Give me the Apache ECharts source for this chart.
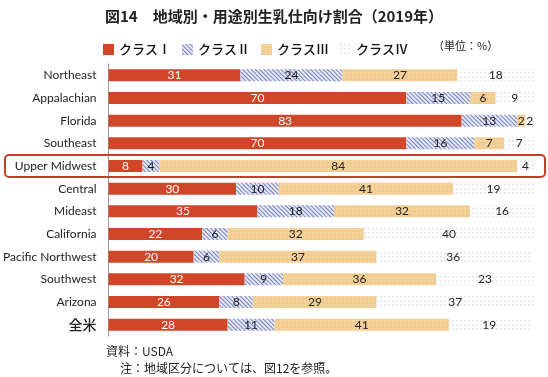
<!DOCTYPE html>
<html><head><meta charset="utf-8">
<script src="https://cdn.jsdelivr.net/npm/echarts@6/dist/echarts.min.js"></script>
<style>html,body{margin:0;padding:0;background:#fff}#c{width:548px;height:377px}</style>
</head><body><div id="c"></div>
<script>
const categories = ['Northeast','Appalachian','Florida','Southeast','Upper Midwest','Central','Mideast','California','Pacific Northwest','Southwest','Arizona','全米'];
const seriesNames = ['クラスⅠ','クラスⅡ','クラスⅢ','クラスⅣ'];
const class1 = [31,70,83,70,8,30,35,22,20,32,26,28];
const class2 = [24,15,13,16,4,10,18,6,6,9,8,11];
const class3 = [27,6,2,7,84,41,32,32,37,36,29,41];
const class4 = [18,9,2,7,4,19,16,40,36,23,37,19];
const highlightCategory = 'Upper Midwest';

const chart = echarts.init(document.getElementById('c'));
const lab = (color) => ({show:true, position:'inside', color:color, fontSize:12, fontFamily:'Lato, "Noto Sans", sans-serif'});
const styles = [
  {color:'#cf4629'},
  {color:'#e6e9f5', decal:{symbol:'rect', symbolSize:1, dashArrayX:[1,0], dashArrayY:[1,1.5], rotation:Math.PI/4, color:'#7482c0'}},
  {color:'#f1cd92', decal:{symbol:'circle', symbolSize:0.7, dashArrayX:[[2,2]], dashArrayY:[2,2], color:'#f8e2bc'}},
  {color:'#ffffff', decal:{symbol:'circle', symbolSize:0.8, dashArrayX:[[1.5,2]], dashArrayY:[1.5,2], color:'#cbd2de'}}
];
const data = [class1,class2,class3,class4];
const notes = [
  {type:'text', left:433, top:40, style:{text:'（単位：%）', fill:'#222', font:'11px "Noto Sans CJK JP"'}},
  {type:'text', left:106, top:345, style:{text:'資料：USDA', fill:'#222', font:'12px "Noto Sans CJK JP"'}},
  {type:'text', left:120, top:362, style:{text:'注：地域区分については、図12を参照。', fill:'#222', font:'12px "Noto Sans CJK JP"'}}
];
chart.setOption({
  animation:false,
  title:{text:'図14　地域別・用途別生乳仕向け割合（2019年）', left:'center', top:4,
    textStyle:{fontSize:15, fontWeight:'bold', color:'#222', fontFamily:'"Noto Sans CJK JP", sans-serif'}},
  legend:{top:38, left:98, itemWidth:11, itemHeight:11, itemGap:11, icon:'rect',
    textStyle:{fontSize:13, fontWeight:500, color:'#111', fontFamily:'"Noto Sans CJK JP", sans-serif'}, data:seriesNames},
  graphic:notes,
  grid:{left:108, right:14, top:64, bottom:41},
  xAxis:{type:'value', min:0, max:100, show:false},
  yAxis:{type:'category', data:categories, inverse:true,
    axisLine:{show:true, lineStyle:{color:'#999', width:1}}, axisTick:{show:false},
    axisLabel:{color:'#222', fontSize:12, margin:12, fontFamily:'Lato, "Noto Sans", sans-serif',
      formatter:(v)=> v==='全米' ? '{b|'+v+'}' : v,
      rich:{b:{fontSize:14, fontWeight:500, fontFamily:'"Noto Sans CJK JP", sans-serif', color:'#222'}}}},
  series: seriesNames.map((n,i)=>({
    name:n, type:'bar', stack:'s', barWidth:12, data:data[i],
    itemStyle:styles[i], label:lab(i===0?'#fff':'#222'), emphasis:{disabled:true}
  }))
});
const y = chart.convertToPixel({yAxisIndex:0}, highlightCategory);
chart.setOption({graphic:notes.concat([
  {type:'rect', shape:{x:5, y:y-11, width:540, height:22, r:4}, style:{fill:'none', stroke:'#c2412a', lineWidth:2}, z:100}
])}, {replaceMerge:['graphic']});
</script></body></html>
